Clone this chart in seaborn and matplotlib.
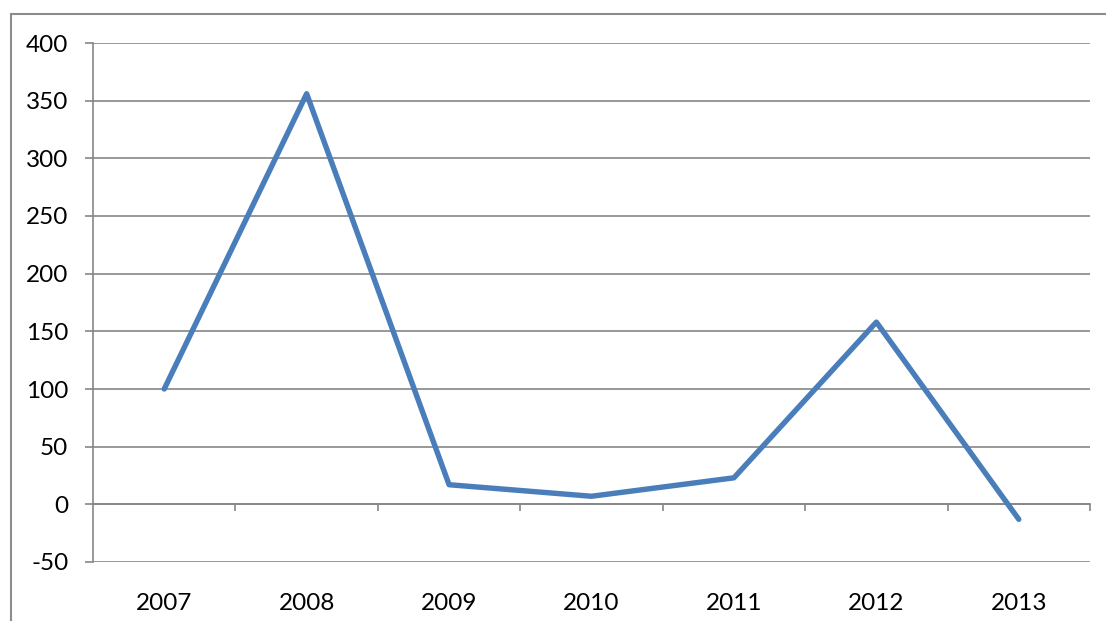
import matplotlib
matplotlib.use("Agg")
import matplotlib.pyplot as plt
import seaborn as sns
import pandas as pd
from matplotlib.patches import Rectangle

years = ["2007", "2008", "2009", "2010", "2011", "2012", "2013"]
values = [100, 356, 17, 7, 23, 158, -13]
y_ticks = [-50, 0, 50, 100, 150, 200, 250, 300, 350, 400]

sns.set_theme(style="white")
plt.rcParams["font.family"] = ["Lato", "DejaVu Sans"]
plt.rcParams["axes.unicode_minus"] = False

GRAY = "#868686"
BLUE = "#4A7EBB"

fig = plt.figure(figsize=(11.06, 6.21), dpi=100)
ax = fig.add_axes([93 / 1106, 1 - 562 / 621, (1090 - 93) / 1106, (562 - 43) / 621])

df = pd.DataFrame({"year": years, "value": values})
sns.lineplot(data=df, x="year", y="value", ax=ax, color=BLUE, linewidth=3.9,
             sort=False, solid_capstyle="round", zorder=5)

n = len(years)
ax.set_xlim(-0.5, n - 0.5)
ax.set_ylim(y_ticks[0], y_ticks[-1])
ax.set_yticks(y_ticks)
ax.set_xticks(range(n))
ax.set_xticklabels(years)
ax.set_xlabel("")
ax.set_ylabel("")

ax.grid(axis="y", color=GRAY, linewidth=1.2)
ax.grid(axis="x", visible=False)
for s in ["top", "right", "bottom"]:
    ax.spines[s].set_visible(False)
ax.spines["left"].set_color(GRAY)
ax.spines["left"].set_linewidth(1.2)

ax.tick_params(axis="y", direction="out", length=5.8, width=1.2, color=GRAY,
               pad=12, labelsize=17.5, labelcolor="black", left=True)
ax.tick_params(axis="x", length=0, pad=22, labelsize=17.5, labelcolor="black")

# category axis at zero with boundary tick marks
zero_frac = (0 - y_ticks[0]) / (y_ticks[-1] - y_ticks[0])
sec = ax.secondary_xaxis(zero_frac)
sec.set_xticks([i + 0.5 for i in range(n)])
sec.set_xticklabels([])
sec.tick_params(direction="out", length=5, width=1.2, color=GRAY)
sec.spines["bottom"].set_color(GRAY)
sec.spines["bottom"].set_linewidth(1.2)

# chart area border
fig.patches.append(Rectangle((11 / 1106, -0.1), 1.2, 1.1 - 14 / 621,
                             transform=fig.transFigure, fill=False,
                             edgecolor="#8C8C8C", linewidth=1.5))

fig.savefig("out.png", dpi=100)
